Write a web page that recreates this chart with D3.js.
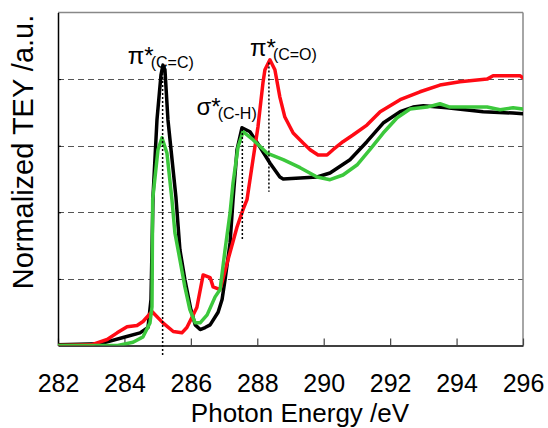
<!DOCTYPE html>
<html>
<head>
<meta charset="utf-8">
<script src="https://cdn.jsdelivr.net/npm/d3@7"></script>
<style>
  html, body { margin: 0; padding: 0; background: #fff; }
  svg { display: block; }
  text { font-family: "Liberation Sans", Arial, sans-serif; fill: #000; }
</style>
</head>
<body>
<svg id="chart" width="548" height="428"></svg>
<script>
// ---- data ----
const xTicks = [282, 284, 286, 288, 290, 292, 294, 296];
const yGrid = [1, 2, 3, 4];

const blackSeries = [[282,0.01],[283.26,0.025],[283.96,0.12],[284.47,0.19],[284.71,0.27],[284.80,0.69],[284.86,2.23],[284.98,3.39],[285.10,4.06],[285.16,4.21],[285.22,4.14],[285.31,3.39],[285.55,2.23],[285.67,1.44],[285.82,0.99],[286.0,0.54],[286.13,0.31],[286.28,0.24],[286.43,0.27],[286.58,0.31],[286.82,0.50],[286.94,0.69],[287.03,0.99],[287.18,1.54],[287.27,2.19],[287.39,2.94],[287.54,3.27],[287.78,3.21],[288.08,2.98],[288.38,2.74],[288.68,2.53],[288.78,2.50],[289.80,2.53],[290.19,2.59],[290.79,2.79],[291.30,3.06],[291.79,3.34],[292.30,3.51],[292.69,3.58],[293.0,3.60],[293.71,3.57],[294.8,3.51],[295.70,3.49],[296.0,3.48]];

const redSeries = [[282,0],[283.0,0.01],[283.48,0.09],[283.78,0.19],[284.08,0.28],[284.38,0.30],[284.56,0.36],[284.83,0.51],[285.16,0.34],[285.47,0.21],[285.73,0.19],[285.88,0.27],[286.18,0.57],[286.37,1.06],[286.58,1.02],[286.67,0.88],[286.88,0.84],[287.12,1.29],[287.39,1.78],[287.57,2.04],[287.69,2.19],[287.87,2.79],[288.02,3.28],[288.17,3.94],[288.23,4.14],[288.38,4.29],[288.53,4.14],[288.68,3.73],[288.83,3.43],[289.08,3.19],[289.38,3.04],[289.59,2.94],[289.83,2.86],[290.10,2.86],[290.28,2.94],[290.58,3.06],[290.88,3.16],[291.30,3.31],[291.70,3.51],[292.30,3.69],[292.90,3.81],[293.50,3.91],[294.10,3.96],[294.92,4.0],[295.10,4.05],[295.91,4.05],[296.0,4.02]];

const greenSeries = [[282,0],[283.8,0.0],[284.26,0.05],[284.56,0.13],[284.77,0.34],[284.83,0.58],[284.85,2.19],[285.01,2.94],[285.13,3.12],[285.28,2.89],[285.43,2.19],[285.52,1.69],[285.67,1.29],[285.82,0.88],[285.97,0.54],[286.13,0.34],[286.28,0.34],[286.49,0.46],[286.73,0.73],[286.88,0.84],[287.03,1.44],[287.18,1.99],[287.27,2.44],[287.42,2.98],[287.57,3.21],[287.87,3.09],[288.29,2.89],[288.78,2.79],[289.29,2.67],[289.80,2.53],[290.19,2.49],[290.58,2.56],[291.0,2.71],[291.39,2.94],[291.79,3.19],[292.21,3.42],[292.60,3.55],[293.11,3.58],[293.50,3.63],[293.80,3.58],[294.92,3.58],[295.31,3.54],[295.70,3.57],[296.0,3.55]];

// peak markers: [energy, top value, bottom value]
const peakMarkers = [[285.15, 4.15, -0.15], [287.55, 3.25, 1.58], [288.35, 4.25, 2.31]];
const peakLabels = [
  {main: "π*", sub: "(C=C)", e: 284.1, v: 4.22},
  {main: "σ*", sub: "(C-H)", e: 286.17, v: 3.46},
  {main: "π*", sub: "(C=O)", e: 287.78, v: 4.35}
];

// ---- layout ----
const svg = d3.select("#chart");
const mLeft = 58, mRight = 523, mTop = 12.5, mBottom = 345.5;
const x = d3.scaleLinear().domain([282, 296]).range([mLeft, mRight]);
const y = d3.scaleLinear().domain([0, 5]).range([mBottom, mTop]);

svg.append("defs").append("clipPath").attr("id", "clip")
  .append("rect").attr("x", mLeft).attr("y", mTop).attr("width", mRight - mLeft).attr("height", mBottom - mTop);

// grid
svg.append("g").selectAll("line").data(yGrid).join("line")
  .attr("x1", mLeft).attr("x2", mRight)
  .attr("y1", d => Math.round(y(d)) + 0.5).attr("y2", d => Math.round(y(d)) + 0.5)
  .attr("stroke", "#555").attr("stroke-width", 1).attr("stroke-dasharray", "6,4");

// frame top/right
svg.append("line").attr("x1", mLeft).attr("x2", mRight).attr("y1", mTop).attr("y2", mTop)
  .attr("stroke", "#888").attr("stroke-width", 1.5);
svg.append("line").attr("x1", mRight).attr("x2", mRight).attr("y1", mTop).attr("y2", mBottom)
  .attr("stroke", "#888").attr("stroke-width", 1.5);

// x axis
const xAxis = d3.axisBottom(x).tickValues(xTicks).tickSizeInner(-7).tickSizeOuter(0).tickPadding(29);
const gx = svg.append("g").attr("transform", `translate(0,${mBottom})`).call(xAxis);
gx.select(".domain").attr("stroke", "#000").attr("stroke-width", 1.5);
gx.selectAll(".tick line").attr("stroke", "#444").attr("stroke-width", 1.2);
gx.selectAll(".tick text").attr("font-size", 25).attr("font-family", "Liberation Sans, Arial, sans-serif").attr("fill", "#000");

// y axis
const yAxis = d3.axisLeft(y).tickValues(yGrid).tickSizeInner(-3).tickSizeOuter(0).tickFormat("");
const gy = svg.append("g").attr("transform", `translate(${mLeft},0)`).call(yAxis);
gy.select(".domain").attr("stroke", "#000").attr("stroke-width", 1.5);
gy.selectAll(".tick line").attr("stroke", "#000");

// curves
const line = d3.line().x(d => x(d[0])).y(d => y(d[1]));
const curves = svg.append("g").attr("clip-path", "url(#clip)");
[[blackSeries, "#000000"], [redSeries, "#ff0a14"], [greenSeries, "#3cc83c"]].forEach(([s, c]) => {
  curves.append("path").datum(s).attr("d", line)
    .attr("fill", "none").attr("stroke", c).attr("stroke-width", 3.5)
    .attr("stroke-linejoin", "round").attr("stroke-linecap", "round");
});

// peak dotted markers
svg.append("g").selectAll("line").data(peakMarkers).join("line")
  .attr("x1", d => x(d[0])).attr("x2", d => x(d[0]))
  .attr("y1", d => y(d[1])).attr("y2", d => y(d[2]))
  .attr("stroke", "#000").attr("stroke-width", 1.5).attr("stroke-dasharray", "2,2");

// peak labels
const lab = svg.append("g").selectAll("text").data(peakLabels).join("text")
  .attr("x", d => x(d.e)).attr("y", d => y(d.v));
lab.append("tspan").attr("font-size", 24).text(d => d.main);
lab.append("tspan").attr("font-size", 16).attr("dx", -3).attr("dy", 4).text(d => d.sub);

// axis titles
svg.append("text").attr("x", 300).attr("y", 422).attr("text-anchor", "middle")
  .attr("font-size", 26).text("Photon Energy /eV");
svg.append("text").attr("transform", "translate(33,152) rotate(-90)").attr("text-anchor", "middle")
  .attr("font-size", 29).text("Normalized TEY /a.u.");
</script>
</body>
</html>
